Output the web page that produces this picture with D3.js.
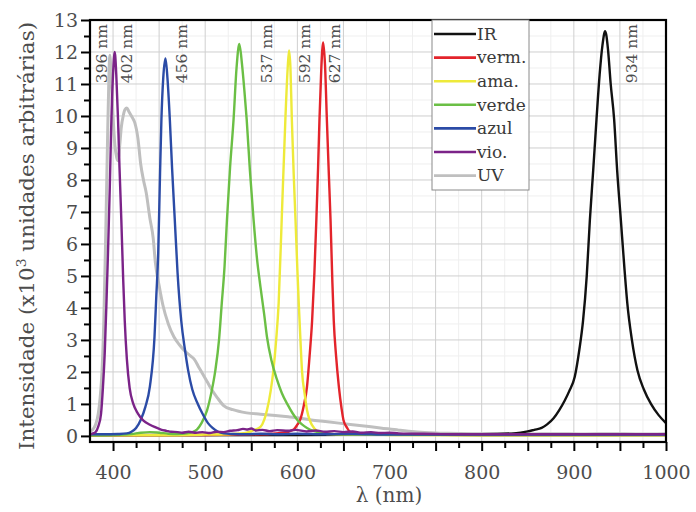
<!DOCTYPE html>
<html>
<head>
<meta charset="utf-8">
<script src="https://cdn.jsdelivr.net/npm/d3@7"></script>
<style>
  html, body { margin: 0; padding: 0; background: #fff; }
  svg { display: block; }
</style>
</head>
<body>
<svg id="chart" width="696" height="512"></svg>
<script>
// Emission spectra of LEDs: wavelength (nm) vs intensity (x10^3 arbitrary units)

const irX   = [375, 600, 750, 800, 835, 850, 857, 865, 871, 878, 884, 890, 895, 901, 906, 910, 914, 917.4, 921, 924.6, 928, 931, 934, 937, 940, 943.7, 947, 951, 955, 958, 963, 969, 976, 983.7, 992, 1000];
const irY   = [0.02, 0.03, 0.04, 0.05, 0.08, 0.14, 0.19, 0.25, 0.36, 0.55, 0.8, 1.1, 1.4, 1.85, 2.7, 3.6, 5.0, 6.75, 8.3, 9.9, 11.3, 12.2, 12.65, 12.1, 11.0, 9.9, 8.3, 6.75, 5.2, 4.15, 3.0, 2.05, 1.45, 1.0, 0.65, 0.4];

const redX  = [375, 500, 560, 585, 596, 600, 603, 607, 610.5, 613, 616, 618.5, 620.6, 622.5, 624, 626, 628, 630, 632, 634, 636, 638, 639.5, 642, 645, 648, 650, 654, 657, 665, 680, 720, 800, 1000];
const redY  = [0.02, 0.03, 0.05, 0.1, 0.2, 0.35, 0.5, 0.95, 1.55, 2.4, 3.6, 5.1, 6.75, 8.4, 9.9, 11.5, 12.3, 11.6, 9.9, 8.3, 6.75, 4.8, 3.6, 2.5, 1.55, 0.85, 0.5, 0.25, 0.13, 0.07, 0.05, 0.04, 0.03, 0.03];

const yelX  = [375, 450, 500, 530, 545, 553, 560, 564, 567, 571, 574, 577, 579.7, 583, 587, 589.5, 591, 592.5, 594, 596, 598, 600, 601.5, 603.5, 605, 608, 610.5, 614, 618, 625, 640, 700, 800, 1000];
const yelY  = [0.02, 0.02, 0.04, 0.06, 0.1, 0.18, 0.28, 0.5, 0.8, 1.4, 2.05, 3.0, 4.15, 6.75, 9.9, 11.5, 12.05, 11.5, 9.9, 8.2, 6.75, 5.2, 4.15, 2.9, 2.05, 1.3, 0.8, 0.45, 0.25, 0.1, 0.05, 0.03, 0.02, 0.02];

const grnX  = [375, 400, 420, 430, 440, 450, 460, 470, 480, 486, 491, 496, 502, 507, 511, 515, 518, 521, 523.6, 527, 530.8, 534, 537, 540, 542.5, 545, 548.5, 552.5, 556, 560, 564, 567, 572, 578, 583, 589, 595, 600, 605, 610.5, 618, 630, 650, 700, 800, 900, 1000];
const grnY  = [0.02, 0.03, 0.06, 0.1, 0.12, 0.1, 0.07, 0.06, 0.08, 0.12, 0.2, 0.4, 0.8, 1.4, 2.05, 3.0, 4.15, 5.3, 6.75, 8.4, 9.9, 11.5, 12.25, 11.6, 10.8, 9.9, 8.3, 6.75, 5.6, 4.65, 3.8, 3.1, 2.35, 1.75, 1.35, 1.0, 0.7, 0.5, 0.36, 0.25, 0.15, 0.08, 0.05, 0.04, 0.03, 0.03, 0.03];

const bluX  = [375, 390, 405, 415, 420, 425, 430, 435, 440, 445, 447, 449, 451, 452.5, 454.5, 456.9, 459, 461.6, 464, 467, 470, 474, 478, 481.5, 486, 492, 497, 503, 508, 514, 520, 530, 545, 560, 580, 600, 630, 660, 700, 750, 800, 850, 900, 950, 1000];
const bluY  = [0.05, 0.05, 0.06, 0.08, 0.13, 0.25, 0.5, 0.9, 1.55, 3.1, 4.4, 5.7, 8.2, 9.9, 11.2, 11.8, 11.2, 9.9, 8.4, 6.75, 5.1, 3.6, 2.7, 2.05, 1.45, 1.0, 0.7, 0.4, 0.25, 0.13, 0.08, 0.06, 0.05, 0.07, 0.05, 0.07, 0.05, 0.06, 0.04, 0.04, 0.04, 0.04, 0.04, 0.04, 0.04];

const vioX  = [375, 378, 381, 384, 387, 389, 391, 393, 394.5, 396.5, 398, 400, 401.8, 403.5, 405.4, 407, 409, 411, 412.7, 415, 418, 422, 427, 433, 440, 445, 452, 458, 463, 470, 475, 482, 490, 497, 505, 512, 520, 527, 535, 541, 545, 550, 555, 562, 570, 578, 590, 598, 610, 620, 630, 640, 650, 660, 670, 680, 690, 700, 710, 730, 750, 780, 820, 860, 900, 950, 1000];
const vioY  = [0.05, 0.08, 0.12, 0.3, 0.7, 1.5, 2.6, 4.3, 5.7, 7.8, 9.65, 11.3, 12.0, 11.3, 9.9, 8.4, 6.75, 4.9, 3.6, 2.4, 1.5, 1.0, 0.7, 0.48, 0.35, 0.28, 0.2, 0.16, 0.13, 0.12, 0.1, 0.13, 0.1, 0.12, 0.09, 0.13, 0.12, 0.16, 0.18, 0.22, 0.2, 0.23, 0.17, 0.19, 0.15, 0.18, 0.16, 0.19, 0.14, 0.17, 0.13, 0.15, 0.12, 0.14, 0.1, 0.12, 0.09, 0.1, 0.08, 0.07, 0.06, 0.05, 0.05, 0.05, 0.05, 0.05, 0.05];

const uvX   = [375, 378, 381, 384, 386, 388, 390, 392, 394, 395.5, 396.5, 398, 400, 402, 404, 405.5, 407, 409, 411, 413, 415, 417, 419, 421, 423.5, 427, 430, 433, 436, 440, 443.5, 446, 450, 454, 460, 466, 472, 478, 484, 488, 493, 497, 502, 507, 513, 520, 530, 545, 560, 576, 590, 602, 615, 630, 645, 660, 675, 690, 710, 727, 745, 763, 790, 820, 850, 880, 910, 940, 970, 1000];
const uvY   = [0.15, 0.2, 0.35, 0.7, 1.2, 2.0, 3.6, 6.2, 9.2, 11.2, 11.9, 11.2, 10.0, 9.1, 8.7, 8.6, 9.0, 9.65, 10.0, 10.2, 10.25, 10.15, 10.05, 9.95, 9.8, 9.3, 8.5, 8.0, 7.6, 6.8, 6.2, 5.4, 4.7, 4.1, 3.5, 3.1, 2.85, 2.65, 2.5, 2.4, 2.15, 1.95, 1.7, 1.45, 1.2, 0.95, 0.82, 0.72, 0.68, 0.64, 0.6, 0.56, 0.5, 0.45, 0.4, 0.35, 0.3, 0.25, 0.18, 0.13, 0.1, 0.08, 0.07, 0.07, 0.06, 0.07, 0.06, 0.07, 0.06, 0.07];

// Legend order and colours
const seriesNames  = ["IR", "verm.", "ama.", "verde", "azul", "vio.", "UV"];
const seriesColors = ["#111111", "#e3242b", "#eeea3a", "#6bbf45", "#2b4ba6", "#7b2388", "#bfbfbf"];
const seriesX = [irX, redX, yelX, grnX, bluX, vioX, uvX];
const seriesY = [irY, redY, yelY, grnY, bluY, vioY, uvY];

// Peak annotations (label baseline sits this many px right of the peak)
const peakLabels = ["396 nm", "402 nm", "456 nm", "537 nm", "592 nm", "627 nm", "934 nm"];
const peakAt     = [396, 402, 456, 537, 592, 627, 934];
const peakOffset = [-2.5, 17, 22.5, 33, 20, 18, 32];

const xMajorLabels = [400, 500, 600, 700, 800, 900, 1000];
const yLabels = d3.range(0, 14);

const svg = d3.select("#chart");
const plotLeft = 90, plotRight = 666, plotTop = 20, plotBottom = 442;

const x = d3.scaleLinear().domain([375, 1000]).range([plotLeft, plotRight]);
const y = d3.scaleLinear().domain([-0.19, 13]).range([plotBottom, plotTop]);

const serif = "'DejaVu Serif', 'Liberation Serif', serif";
const textColor = "#4d4d4d";

// Grid: faint minor lines, then main lines
const grid = svg.append("g");
grid.selectAll("line.mv").data(d3.range(425, 1000, 50)).join("line")
  .attr("x1", d => x(d)).attr("x2", d => x(d)).attr("y1", plotTop).attr("y2", plotBottom)
  .attr("stroke", "#efefef").attr("stroke-width", 1);
grid.selectAll("line.mh").data(d3.range(0.5, 13, 1)).join("line")
  .attr("x1", plotLeft).attr("x2", plotRight).attr("y1", d => y(d)).attr("y2", d => y(d))
  .attr("stroke", "#efefef").attr("stroke-width", 1);
grid.selectAll("line.gv").data(d3.range(400, 1000, 50)).join("line")
  .attr("x1", d => x(d)).attr("x2", d => x(d)).attr("y1", plotTop).attr("y2", plotBottom)
  .attr("stroke", "#cfcfcf").attr("stroke-width", 1);
grid.selectAll("line.gh").data(d3.range(0, 13, 1)).join("line")
  .attr("x1", plotLeft).attr("x2", plotRight).attr("y1", d => y(d)).attr("y2", d => y(d))
  .attr("stroke", "#cfcfcf").attr("stroke-width", 1);

// Spectra
const line = d3.line().x(d => x(d[0])).y(d => y(d[1])).curve(d3.curveMonotoneX);
const drawOrder = [6, 0, 1, 2, 3, 4, 5];
const curves = svg.append("g");
drawOrder.forEach(i => {
  const pts = seriesX[i].map((v, k) => [v, seriesY[i][k]]);
  curves.append("path")
    .datum(pts)
    .attr("d", line)
    .attr("fill", "none")
    .attr("stroke", seriesColors[i])
    .attr("stroke-width", i === 6 ? 3 : 2.4)
    .attr("stroke-linejoin", "round");
});

// Peak wavelength labels (vertical)
svg.append("g").selectAll("text").data(peakLabels).join("text")
  .attr("transform", (d, i) => `translate(${x(peakAt[i]) + peakOffset[i]},24) rotate(-90)`)
  .attr("text-anchor", "end")
  .attr("font-family", serif).attr("font-size", 15.5)
  .attr("fill", textColor)
  .text(d => d);

// X axis
const xMinor = svg.append("g").attr("transform", `translate(0,${plotBottom})`)
  .call(d3.axisBottom(x).tickValues(d3.range(425, 1000, 50)).tickSize(6).tickFormat(""));
const xMajor = svg.append("g").attr("transform", `translate(0,${plotBottom})`)
  .call(d3.axisBottom(x).tickValues(d3.range(400, 1001, 50)).tickSize(9)
    .tickFormat(d => xMajorLabels.includes(d) ? d : ""));
[xMinor, xMajor].forEach(g => {
  g.select(".domain").remove();
  g.selectAll(".tick line").attr("stroke", "#000").attr("stroke-width", 2);
});
xMajor.selectAll(".tick text")
  .attr("y", 37).attr("dy", 0)
  .attr("font-family", serif).attr("font-size", 19)
  .attr("fill", textColor);

// Y axis
const yMinor = svg.append("g").attr("transform", `translate(${plotLeft},0)`)
  .call(d3.axisLeft(y).tickValues(d3.range(0.5, 13, 1)).tickSize(6).tickFormat(""));
const yMajor = svg.append("g").attr("transform", `translate(${plotLeft},0)`)
  .call(d3.axisLeft(y).tickValues(yLabels).tickSize(9).tickFormat(d => d));
[yMinor, yMajor].forEach(g => {
  g.select(".domain").remove();
  g.selectAll(".tick line").attr("stroke", "#000").attr("stroke-width", 2);
});
yMajor.selectAll(".tick text")
  .attr("x", -12).attr("dy", "0.34em")
  .attr("font-family", serif).attr("font-size", 19)
  .attr("fill", textColor);

// Frame
svg.append("rect")
  .attr("x", plotLeft).attr("y", plotTop)
  .attr("width", plotRight - plotLeft).attr("height", plotBottom - plotTop)
  .attr("fill", "none").attr("stroke", "#000").attr("stroke-width", 2.2);

// Legend
const lg = svg.append("g");
lg.append("rect").attr("x", 432).attr("y", plotTop).attr("width", 97).attr("height", 170)
  .attr("fill", "#fff").attr("stroke", "#8a8a8a").attr("stroke-width", 1);
seriesNames.forEach((name, i) => {
  const cy = 34 + i * 23.6;
  lg.append("line").attr("x1", 434).attr("x2", 476).attr("y1", cy).attr("y2", cy)
    .attr("stroke", seriesColors[i]).attr("stroke-width", 2.6);
  lg.append("text").attr("x", 477).attr("y", cy).attr("dy", "0.34em")
    .attr("font-family", serif).attr("font-size", 17)
    .attr("fill", "#3a3a3a").text(name);
});

// Axis titles
const yTitle = svg.append("text")
  .attr("transform", "translate(34,236) rotate(-90)")
  .attr("text-anchor", "middle")
  .attr("font-family", serif).attr("font-size", 20)
  .attr("fill", textColor)
  .attr("textLength", 428).attr("lengthAdjust", "spacingAndGlyphs");
yTitle.append("tspan").text("Intensidade (x10");
yTitle.append("tspan").attr("dy", -8).attr("font-size", 13).text("3");
yTitle.append("tspan").attr("dy", 8).text(" unidades arbitrárias)");

svg.append("text")
  .attr("x", 389).attr("y", 502)
  .attr("text-anchor", "middle")
  .attr("font-family", serif).attr("font-size", 20)
  .attr("fill", textColor)
  .text("λ (nm)");
</script>
</body>
</html>
